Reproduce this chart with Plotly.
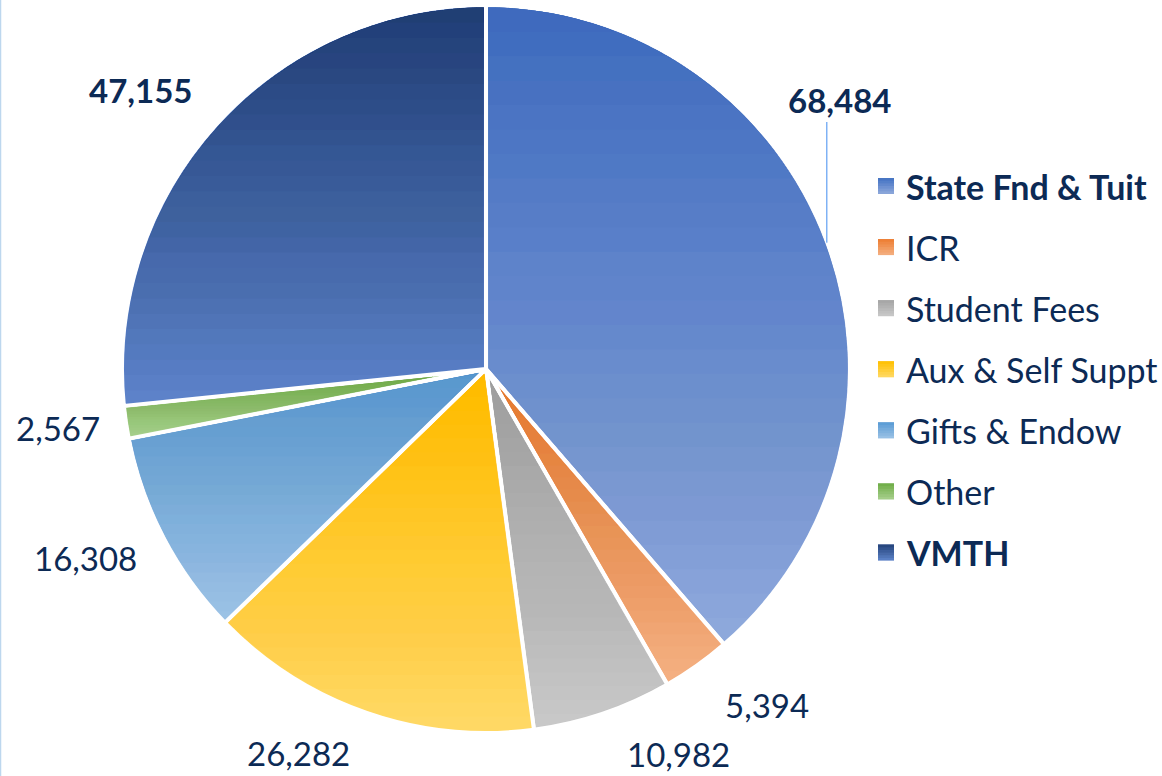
import math
import plotly.graph_objects as go

# ---------------- data ----------------
categories = ["State Fnd & Tuit", "ICR", "Student Fees", "Aux & Self Suppt",
              "Gifts & Endow", "Other", "VMTH"]
values = [68484, 5394, 10982, 26282, 16308, 2567, 47155]
bold_items = ["State Fnd & Tuit", "VMTH"]

# ---------------- styles ----------------
top_colors = ["#4472C4", "#ED7D31", "#A5A5A5", "#FFC000", "#5B9BD5", "#70AD47", "#25447A"]
bottom_colors = ["#8FAADC", "#F4B183", "#C9C9C9", "#FFD966", "#9DC3E6", "#A9D18E", "#5E84CB"]
TEXT = "#0C2A55"
FONT = "Lato"
W, H = 1162, 776
CX, CY = 486, 369
BORDER = 4
R = 362 + BORDER / 2               # pie radius incl. the outer white border
# label centres (pixels) for the data labels
label_centers = [(839, 100), (767, 705), (678, 754), (298, 753), (85, 558), (58, 428), (140, 90)]
LEG_X, LEG_Y0, LEG_DY, LEG_SQ, LEG_TX = 886, 186, 61.1, 16, 904


def px(x):
    return x / W


def py(y):
    return 1 - y / H


def hex_rgb(h):
    h = h.lstrip("#")
    return tuple(int(h[i:i + 2], 16) for i in (0, 2, 4))


def pt(a_deg, s):
    a = math.radians(a_deg)
    return (CX + s * math.sin(a), CY - s * math.cos(a))


def clip_below(poly, yk):
    """keep the part of polygon with y <= yk (pixel coords, y down)"""
    out = []
    n = len(poly)
    for i in range(n):
        p, q = poly[i], poly[(i + 1) % n]
        pin, qin = p[1] <= yk, q[1] <= yk
        if pin:
            out.append(p)
        if pin != qin:
            t = (yk - p[1]) / (q[1] - p[1])
            out.append((p[0] + t * (q[0] - p[0]), yk))
    return out


def path_of(poly):
    return "M " + " L ".join(f"{px(x):.6f},{py(y):.6f}" for x, y in poly) + " Z"


def gradient_shapes(poly, top, bottom, color, n):
    rgb = hex_rgb(color)
    h = bottom - top
    m = [(j - 0.5) / n for j in range(1, n + 1)]
    shapes = []
    for j in range(1, n + 1):
        if j == n:
            a = 1 - m[n - 1]
        else:
            a = 1 - m[j - 1] / m[j]
        yk = top + h * j / n
        sub = clip_below(poly, yk)
        if len(sub) < 3:
            continue
        shapes.append(dict(type="path", xref="paper", yref="paper", path=path_of(sub),
                           fillcolor=f"rgba({rgb[0]},{rgb[1]},{rgb[2]},{a:.4f})",
                           line=dict(width=0), layer="above"))
    return shapes


total = sum(values)
shapes = []
annotations = []
cum = 0.0
mids = []
d = BORDER / 2 + 0.4
RI = R - d                          # visible radius of the coloured area
for i, v in enumerate(values):
    a1 = 360 * cum / total
    cum += v
    a2 = 360 * cum / total
    mid = (a1 + a2) / 2
    mids.append(mid)
    full = [(CX, CY)] + [pt(a1 + (a2 - a1) * k / 200, RI) for k in range(201)]
    top = min(p[1] for p in full)
    bot = max(p[1] for p in full)
    # inset sector polygon (so that the white borders stay white)
    half = math.radians((a2 - a1) / 2)
    apex = pt(mid, d / math.sin(half))
    da = math.degrees(math.asin(d / RI))
    b1, b2 = a1 + da, a2 - da
    nseg = max(8, int((b2 - b1) / 1.0))
    poly = [apex] + [pt(b1 + (b2 - b1) * k / nseg, RI) for k in range(nseg + 1)]
    shapes += gradient_shapes(poly, top, bot, top_colors[i], 26)

# data labels
for i, v in enumerate(values):
    txt = f"{v:,}"
    if categories[i] in bold_items:
        txt = f"<b>{txt}</b>"
    x, y = label_centers[i]
    annotations.append(dict(x=px(x), y=py(y), xref="paper", yref="paper", text=txt,
                            showarrow=False, xanchor="center", yanchor="middle",
                            font=dict(family=FONT, size=33, color=TEXT)))

# leader line for the moved first label
ex, ey = pt(mids[0], R - BORDER / 2)
shapes.append(dict(type="line", xref="paper", yref="paper",
                   x0=px(ex + 1.5), x1=px(ex + 1.5), y0=py(ey), y1=py(label_centers[0][1] + 22),
                   line=dict(color="#7FB2F5", width=1.5), layer="above"))

# legend (manual, for the Excel-like spacing)
for i, c in enumerate(categories):
    yc = LEG_Y0 + i * LEG_DY
    x0, x1 = LEG_X - LEG_SQ / 2, LEG_X + LEG_SQ / 2
    y0, y1 = yc - LEG_SQ / 2, yc + LEG_SQ / 2
    shapes.append(dict(type="rect", xref="paper", yref="paper", x0=px(x0), x1=px(x1),
                       y0=py(y0), y1=py(y1), fillcolor=bottom_colors[i], line=dict(width=0),
                       layer="above"))
    rect = [(x0, y0), (x1, y0), (x1, y1), (x0, y1)]
    shapes += gradient_shapes(rect, y0, y1, top_colors[i], 6)
    txt = f"<b>{c}</b>" if c in bold_items else c
    annotations.append(dict(x=px(LEG_TX), y=py(yc), xref="paper", yref="paper", text=txt,
                            showarrow=False, xanchor="left", yanchor="middle",
                            font=dict(family=FONT, size=34, color=TEXT)))

# thin frame edge on the left
shapes.append(dict(type="line", xref="paper", yref="paper", x0=px(0.5), x1=px(0.5),
                   y0=0, y1=1, line=dict(color="#BDD7EE", width=1.5), layer="above"))

fig = go.Figure(go.Pie(
    labels=categories, values=values, sort=False, direction="clockwise", rotation=0,
    marker=dict(colors=bottom_colors, line=dict(color="white", width=BORDER)),
    textinfo="none", showlegend=False,
    domain=dict(x=[px(CX - R), px(CX + R)], y=[py(CY + R), py(CY - R)]),
))
fig.update_layout(width=W, height=H, margin=dict(l=0, r=0, t=0, b=0),
                  paper_bgcolor="white", plot_bgcolor="white", showlegend=False,
                  shapes=shapes, annotations=annotations,
                  font=dict(family=FONT, color=TEXT))
fig.write_html("out.html", config={"displayModeBar": False},
               post_script="document.body.style.margin='0';document.body.style.overflow='hidden';")
